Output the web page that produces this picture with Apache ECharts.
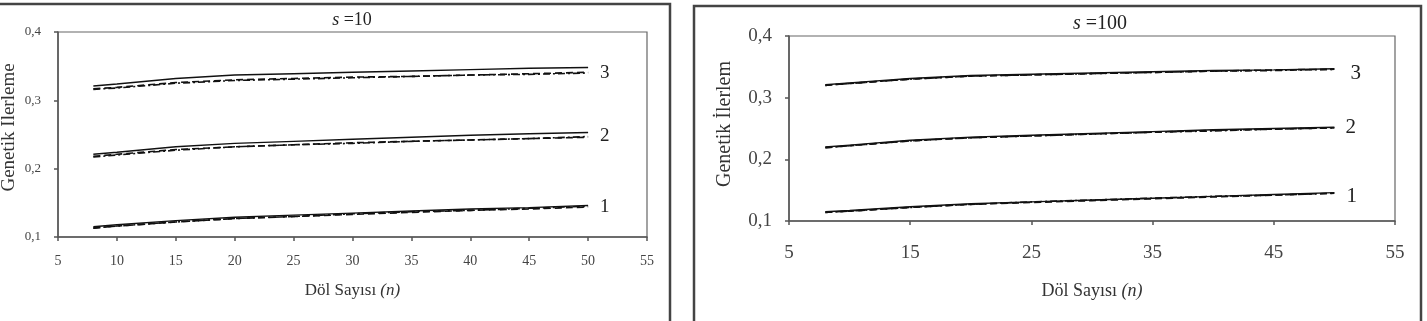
<!DOCTYPE html>
<html><head><meta charset="utf-8">
<script src="https://cdn.jsdelivr.net/npm/echarts@6/dist/echarts.min.js"></script>
<style>html,body{margin:0;padding:0;background:#fff}#c{width:1427px;height:321px}</style>
</head><body><div id="c"></div>
<script>
// Döl sayısı (n)
const nVals = [8, 10, 15, 20, 25, 30, 35, 40, 45, 50];
const xTicksLeft = [5, 10, 15, 20, 25, 30, 35, 40, 45, 50, 55];
const xTicksRight = [5, 15, 25, 35, 45, 55];
const yTicks = [0.1, 0.2, 0.3, 0.4];
const groupLabels = ['1', '2', '3'];

// s = 10
const s10_g1_solid   = [0.115, 0.118, 0.124, 0.129, 0.132, 0.135, 0.138, 0.141, 0.143, 0.146];
const s10_g1_dash    = [0.113, 0.116, 0.122, 0.127, 0.130, 0.133, 0.136, 0.139, 0.141, 0.144];
const s10_g1_dashdot = [0.113, 0.116, 0.122, 0.127, 0.130, 0.134, 0.137, 0.139, 0.142, 0.145];
const s10_g2_solid   = [0.221, 0.224, 0.232, 0.237, 0.240, 0.243, 0.246, 0.249, 0.251, 0.253];
const s10_g2_dash    = [0.218, 0.221, 0.228, 0.232, 0.235, 0.238, 0.240, 0.242, 0.244, 0.246];
const s10_g2_dashdot = [0.217, 0.220, 0.227, 0.232, 0.235, 0.237, 0.240, 0.242, 0.244, 0.247];
const s10_g3_solid   = [0.321, 0.324, 0.332, 0.337, 0.339, 0.341, 0.343, 0.345, 0.347, 0.348];
const s10_g3_dash    = [0.317, 0.319, 0.326, 0.330, 0.332, 0.334, 0.335, 0.337, 0.339, 0.341];
const s10_g3_dashdot = [0.316, 0.318, 0.325, 0.329, 0.331, 0.333, 0.335, 0.337, 0.338, 0.340];

// s = 100
const s100_g1_solid   = [0.115, 0.117, 0.123, 0.128, 0.131, 0.134, 0.137, 0.140, 0.143, 0.146];
const s100_g1_dash    = [0.114, 0.116, 0.122, 0.127, 0.130, 0.133, 0.136, 0.139, 0.142, 0.145];
const s100_g1_dashdot = [0.114, 0.116, 0.122, 0.127, 0.131, 0.134, 0.137, 0.140, 0.142, 0.145];
const s100_g2_solid   = [0.220, 0.223, 0.231, 0.236, 0.239, 0.242, 0.245, 0.248, 0.250, 0.252];
const s100_g2_dash    = [0.219, 0.222, 0.230, 0.235, 0.238, 0.241, 0.244, 0.247, 0.249, 0.251];
const s100_g2_dashdot = [0.219, 0.222, 0.230, 0.235, 0.238, 0.241, 0.244, 0.246, 0.249, 0.251];
const s100_g3_solid   = [0.321, 0.324, 0.331, 0.336, 0.338, 0.340, 0.342, 0.344, 0.345, 0.347];
const s100_g3_dash    = [0.320, 0.323, 0.330, 0.335, 0.337, 0.339, 0.341, 0.343, 0.345, 0.346];
const s100_g3_dashdot = [0.320, 0.323, 0.330, 0.335, 0.337, 0.339, 0.341, 0.343, 0.344, 0.346];

const SERIF = "'Liberation Serif', 'DejaVu Serif', serif";
const pairs = ys => nVals.map((n, i) => [n, ys[i]]);
const fmtY = v => v.toFixed(1).replace('.', ',');

function line(idx, ys, type, label, lblOffset, lblSize) {
  const s = {
    type: 'line', xAxisIndex: idx, yAxisIndex: idx, data: pairs(ys),
    showSymbol: false, symbol: 'none', silent: true, animation: false,
    lineStyle: { color: '#111', width: type === 'solid' ? 1.4 : 1.6,
      type: type === 'solid' ? 'solid' : (type === 'dash' ? [7, 4] : [7, 3, 2, 3]) },
    z: type === 'solid' ? 3 : 2
  };
  if (label) {
    s.endLabel = { show: true, formatter: label, fontFamily: SERIF, fontSize: lblSize,
      color: '#222', offset: lblOffset };
  }
  return s;
}

function xAxis(idx, ticks, fs, margin, nameSize, nameGap) {
  return {
    type: 'value', gridIndex: idx, min: ticks[0], max: ticks[ticks.length - 1],
    interval: ticks[1] - ticks[0],
    name: 'Döl Sayısı {i|(n)}', nameLocation: 'middle', nameGap: nameGap,
    nameTextStyle: { fontFamily: SERIF, fontSize: nameSize, color: '#333',
      rich: { i: { fontFamily: SERIF, fontStyle: 'italic', fontSize: nameSize, color: '#333' } } },
    axisLine: { show: true, lineStyle: { color: '#555', width: 1.5 } },
    axisTick: { show: true, inside: false, length: 4, lineStyle: { color: '#555', width: 1.5 } },
    axisLabel: { fontFamily: SERIF, fontSize: fs, color: '#444', margin: margin },
    splitLine: { show: false }
  };
}
function yAxis(idx, fs, margin, name, nameGap, nfs, shiftUp) {
  return {
    type: 'value', gridIndex: idx, min: yTicks[0], max: yTicks[yTicks.length - 1], interval: 0.1,
    name: name, nameLocation: 'middle', nameGap: nameGap, nameRotate: 90,
    nameTextStyle: { fontFamily: SERIF, fontSize: nfs, color: '#333', padding: [0, 0, 0, shiftUp] },
    axisLine: { show: true, lineStyle: { color: '#555', width: 1.5 } },
    axisTick: { show: true, inside: false, length: 4, lineStyle: { color: '#555', width: 1.5 } },
    axisLabel: { fontFamily: SERIF, fontSize: fs, color: '#444', formatter: fmtY, margin: margin },
    splitLine: { show: false }
  };
}

const chart = echarts.init(document.getElementById('c'), null, { renderer: 'canvas' });
chart.setOption({
  backgroundColor: '#fff',
  animation: false,
  title: [
    { text: '{i|s} =10', left: 347, top: 6, textAlign: 'center',
      textStyle: { fontFamily: SERIF, fontSize: 18, fontWeight: 'normal', color: '#222',
        rich: { i: { fontFamily: SERIF, fontStyle: 'italic', fontSize: 18, color: '#222' } } } },
    { text: '{i|s} =100', left: 1095, top: 9, textAlign: 'center',
      textStyle: { fontFamily: SERIF, fontSize: 20, fontWeight: 'normal', color: '#222',
        rich: { i: { fontFamily: SERIF, fontStyle: 'italic', fontSize: 20, color: '#222' } } } }
  ],
  graphic: [
    { type: 'rect', shape: { x: -5, y: 4, width: 675, height: 340 },
      style: { fill: 'none', stroke: '#444', lineWidth: 2.5 }, silent: true },
    { type: 'rect', shape: { x: 694, y: 6, width: 727, height: 340 },
      style: { fill: 'none', stroke: '#444', lineWidth: 2.5 }, silent: true }
  ],
  grid: [
    { left: 58, top: 32, width: 589, height: 205, show: true, borderColor: '#666', borderWidth: 1.2,
      backgroundColor: 'transparent', containLabel: false, outerBoundsMode: 'none' },
    { left: 789, top: 36, width: 606, height: 185, show: true, borderColor: '#666', borderWidth: 1.2,
      backgroundColor: 'transparent', containLabel: false, outerBoundsMode: 'none' }
  ],
  xAxis: [ xAxis(0, xTicksLeft, 14, 17, 17, 45), xAxis(1, xTicksRight, 19, 23, 18, 61) ],
  yAxis: [ yAxis(0, 13, 17, 'Genetik İlerleme', 39, 19, 14), yAxis(1, 19, 17, 'Genetik İlerlem', 54, 20, 9) ],
  series: [
    line(0, s10_g1_solid, 'solid'), line(0, s10_g1_dash, 'dash', groupLabels[0], [4, 0], 19), line(0, s10_g1_dashdot, 'dashdot'),
    line(0, s10_g2_solid, 'solid'), line(0, s10_g2_dash, 'dash', groupLabels[1], [4, -1], 19), line(0, s10_g2_dashdot, 'dashdot'),
    line(0, s10_g3_solid, 'solid'), line(0, s10_g3_dash, 'dash', groupLabels[2], [4, 1], 19), line(0, s10_g3_dashdot, 'dashdot'),
    line(1, s100_g1_solid, 'solid'), line(1, s100_g1_dash, 'dash', groupLabels[0], [4, 3], 21), line(1, s100_g1_dashdot, 'dashdot'),
    line(1, s100_g2_solid, 'solid'), line(1, s100_g2_dash, 'dash', groupLabels[1], [3, 0], 21), line(1, s100_g2_dashdot, 'dashdot'),
    line(1, s100_g3_solid, 'solid'), line(1, s100_g3_dash, 'dash', groupLabels[2], [8, 4], 21), line(1, s100_g3_dashdot, 'dashdot')
  ]
});
</script>
</body></html>
